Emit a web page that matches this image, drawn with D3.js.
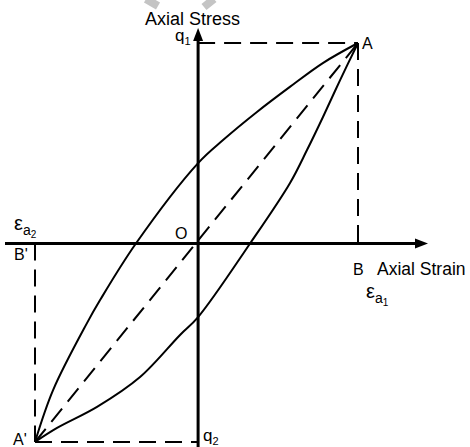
<!DOCTYPE html>
<html>
<head>
    <meta charset='utf-8'>
    <title>Axial Stress - Axial Strain</title>
    <script src='https://d3js.org/d3.v7.min.js'></script>
    <style>
        body { margin: 0; background: #fff; }
        text { font-family: Arial, 'Liberation Sans', sans-serif; fill: #000; }
    </style>
</head>
<body>
    <script>
        // strain is scaled so that eps_a1 = 1, stress so that q1 = 1
        const epsA1 = 1.0;
        const epsA2 = -1.02;
        const q1 = 1.0;
        const q2 = -0.99;

        // loading branch (upper curve), A' -> A
        const upperStrain = [-1.02, -0.907, -0.695, -0.613, -0.389, 0, 0.156, 0.368, 0.574, 0.78, 1.0];
        const upperStress = [-0.99, -0.731, -0.397, -0.282, 0, 0.401, 0.516, 0.656, 0.781, 0.90, 1.0];

        // unloading branch (lower curve), A' -> A
        const lowerStrain = [-1.02, -0.882, -0.632, -0.363, -0.113, 0, 0.325, 0.575, 0.681, 0.781, 0.888, 1.0];
        const lowerStress = [-0.99, -0.920, -0.815, -0.666, -0.456, -0.367, 0, 0.302, 0.466, 0.631, 0.815, 1.0];

        const width = 470, height = 447;

        const svg = d3.select('body')
            .append('svg')
            .attr('width', width)
            .attr('height', height);

        const x = d3.scaleLinear().domain([epsA2, epsA1]).range([35, 358]);
        const y = d3.scaleLinear().domain([q2, q1]).range([442, 43]);

        const x0 = x(0), y0 = y(0);

        // faint watermark strokes at the top
        svg.append('path')
            .attr('d', 'M146,-1 L158,6 M214,-1 L204,7')
            .attr('stroke', '#c4c4c4')
            .attr('stroke-width', 8)
            .attr('fill', 'none');

        // dashed guide lines
        const dash = '17,9';
        const guides = [
            [[0, q1], [epsA1, q1]],
            [[epsA1, q1], [epsA1, 0]],
            [[epsA2, 0], [epsA2, q2]],
            [[epsA2, q2], [0, q2]],
            [[epsA2, q2], [epsA1, q1]]
        ];
        svg.selectAll('.guide')
            .data(guides)
            .enter()
            .append('line')
            .attr('class', 'guide')
            .attr('x1', d => x(d[0][0]))
            .attr('y1', d => y(d[0][1]))
            .attr('x2', d => x(d[1][0]))
            .attr('y2', d => y(d[1][1]))
            .attr('stroke', '#000')
            .attr('stroke-width', 2)
            .attr('stroke-dasharray', dash);

        // short solid ticks at B and B'
        svg.append('line')
            .attr('x1', x(epsA1)).attr('x2', x(epsA1))
            .attr('y1', y0 - 12).attr('y2', y0)
            .attr('stroke', '#000').attr('stroke-width', 2);
        svg.append('line')
            .attr('x1', x(epsA2)).attr('x2', x(epsA2))
            .attr('y1', y0).attr('y2', y0 + 12)
            .attr('stroke', '#000').attr('stroke-width', 2);

        // hysteresis loop
        const line = d3.line()
            .x(d => x(d[0]))
            .y(d => y(d[1]))
            .curve(d3.curveCatmullRom.alpha(0.5));

        const upper = upperStrain.map((s, i) => [s, upperStress[i]]);
        const lower = lowerStrain.map((s, i) => [s, lowerStress[i]]);

        [upper, lower].forEach(pts => {
            svg.append('path')
                .datum(pts)
                .attr('d', line)
                .attr('fill', 'none')
                .attr('stroke', '#000')
                .attr('stroke-width', 2);
        });

        // axes
        svg.append('line')
            .attr('x1', 5).attr('x2', 420)
            .attr('y1', y0).attr('y2', y0)
            .attr('stroke', '#000').attr('stroke-width', 3);
        svg.append('path')
            .attr('d', `M428,${y0} L415,${y0 - 5} L415,${y0 + 5} Z`)
            .attr('fill', '#000');

        svg.append('line')
            .attr('x1', x0).attr('x2', x0)
            .attr('y1', 447).attr('y2', 38)
            .attr('stroke', '#000').attr('stroke-width', 3);
        svg.append('path')
            .attr('d', `M${x0},28 L${x0 - 5},41 L${x0 + 5},41 Z`)
            .attr('fill', '#000');

        // labels
        const fs = 17.5;
        function label(tx, ty, str, size) {
            return svg.append('text')
                .attr('x', tx)
                .attr('y', ty)
                .attr('font-size', (size || fs) + 'px')
                .text(str);
        }

        label(145, 25, 'Axial Stress', 18);
        label(377, 275, 'Axial Strain');
        label(362, 49, 'A', 16);
        label(353, 275, 'B', 16);
        label(14, 260, "B'", 16);
        label(13, 445, "A'", 16);
        label(175, 239, 'O', 16);

        // q1 / q2 with subscripts
        const q1t = label(175, 41, 'q', 17);
        q1t.append('tspan').attr('dy', 4).attr('font-size', '11px').text('1');
        const q2t = label(203, 441, 'q', 17);
        q2t.append('tspan').attr('dy', 4).attr('font-size', '11px').text('2');

        // epsilon labels with nested subscripts
        function epsLabel(tx, ty, sub) {
            const t = label(tx, ty, 'ε', 20);
            t.append('tspan').attr('dy', 5).attr('font-size', '14px').text('a');
            t.append('tspan').attr('dy', 3).attr('font-size', '10px').text(sub);
        }
        epsLabel(14, 230, '2');
        epsLabel(366, 298, '1');
    </script>
</body>
</html>
